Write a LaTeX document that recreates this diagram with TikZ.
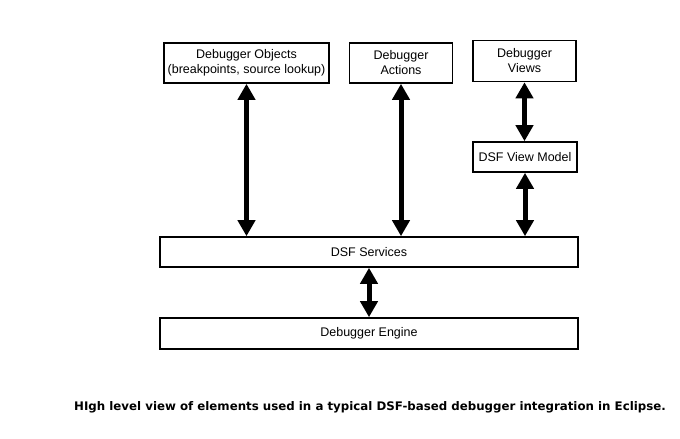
\documentclass[tikz,border=0pt]{standalone}
\usepackage{fontspec}
\setmainfont{Liberation Sans}
\newfontfamily\captionfont{DejaVu Sans}
\usetikzlibrary{arrows.meta}
\begin{document}
\begin{tikzpicture}[x=1pt, y=-1pt]
                \tikzstyle{box}=[
                    rectangle, draw, line width=1.6pt, align=center,
                    inner sep=0pt, font=\fontsize{12.5}{15}\selectfont]
                \tikzstyle{connector}=[line width=5pt,
                    {Triangle[width=17pt,length=16pt]}-{Triangle[width=17pt,length=16pt]}]
                \useasboundingbox (0, 0) rectangle (680, 439);

                \node [box, minimum width=165pt, minimum height=40pt] (obj)
                    at (246.5, 63) {Debugger Objects\\(breakpoints, source lookup)};
                \node [box, minimum width=103pt, minimum height=40pt] (act)
                    at (401, 63) {Debugger\\Actions};
                \node [box, minimum width=103pt, minimum height=41pt] (views)
                    at (524.5, 61) {Debugger\\Views};
                \node [box, minimum width=104pt, minimum height=30pt] (vm)
                    at (525, 157) {DSF View Model};
                \node [box, minimum width=418pt, minimum height=30pt] (svc)
                    at (369, 252) {DSF Services};
                \node [box, minimum width=418pt, minimum height=31pt] (eng)
                    at (369, 333.5) {Debugger Engine};

                \foreach \source in {obj, act, vm}
                    \path [connector] (\source.south) edge (\source.south |- svc.north);
                \path [connector] (views.south) edge (views.south |- vm.north);
                \path [connector] (svc.south) edge (eng.north);

                \node [font=\captionfont\bfseries\fontsize{11.8}{14}\selectfont] (caption)
                    at (370, 407) {HIgh level view of elements used in a typical DSF-based debugger integration in Eclipse.};
            \end{tikzpicture}
\end{document}
